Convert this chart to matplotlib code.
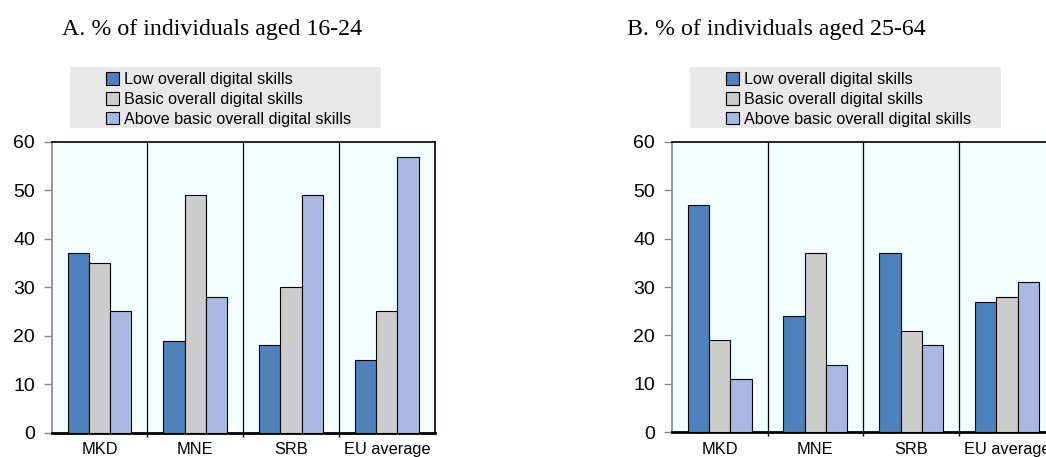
import numpy as np
import matplotlib
matplotlib.use("Agg")
import matplotlib.pyplot as plt
from matplotlib.patches import Rectangle, Patch

# data
countries = ["MKD", "MNE", "SRB", "EU average"]
series = ["Low overall digital skills", "Basic overall digital skills",
          "Above basic overall digital skills"]
young_low = [37, 19, 18, 15]
young_basic = [35, 49, 30, 25]
young_above = [25, 28, 49, 57]
adult_low = [47, 24, 37, 27]
adult_basic = [19, 37, 21, 28]
adult_above = [11, 14, 18, 31]
titles = ["A. % of individuals aged 16-24", "B. % of individuals aged 25-64"]

colors = ["#4F81BD", "#CCCCCC", "#A7B9E3"]
sans = ["Liberation Sans", "DejaVu Sans"]
serif = ["Liberation Serif", "DejaVu Serif"]

fig = plt.figure(figsize=(10.46, 4.57), dpi=100)

panels = [
    ([young_low, young_basic, young_above], 0.0494, 0.0536),
    ([adult_low, adult_basic, adult_above], 0.6422, 0.0540),
]
title_x = [61.7 / 1046, 626.7 / 1046]
legend_x = [70 / 1046, 690 / 1046]

for k, (vals, left, bottom) in enumerate(panels):
    ax = fig.add_axes([left, bottom, 0.3662, 0.6357])
    ax.set_facecolor("#F2FDFF")
    x = np.arange(len(countries))
    w = 0.222
    for i, v in enumerate(vals):
        ax.bar(x + (i - 1) * w, v, w, color=colors[i], edgecolor="black",
               linewidth=0.8, zorder=3)
    for b in x[:-1] + 0.5:
        ax.axvline(b, color="black", lw=0.9, zorder=2)
    ax.set_xlim(-0.5, len(countries) - 0.5)
    ax.set_ylim(0, 60)
    ax.set_yticks(range(0, 61, 10))
    ax.set_xticks(x)
    ax.set_xticks(x[:-1] + 0.5, minor=True)
    ax.set_xticklabels(countries, fontfamily=sans, fontsize=11.8)
    for t in ax.get_yticklabels():
        t.set_fontfamily(sans)
        t.set_fontsize(14)
    ax.tick_params(axis="x", which="major", length=0, pad=7)
    ax.tick_params(axis="x", which="minor", length=3, width=1, color="black")
    ax.tick_params(axis="y", length=6, color="#888888", width=1, pad=6)
    ax.spines["left"].set_color("#888888")
    ax.spines["left"].set_linewidth(1.2)
    ax.spines["bottom"].set_linewidth(2)
    ax.spines["top"].set_linewidth(1.2)
    ax.spines["right"].set_linewidth(1.2)

    fig.text(title_x[k], 1 - 35 / 457, titles[k], fontfamily=serif,
             fontsize=17.2, va="baseline", ha="left")

    # grey legend box
    lx = legend_x[k]
    fig.patches.append(Rectangle((lx, 1 - 128 / 457), 311 / 1046, 61 / 457,
                                 transform=fig.transFigure,
                                 facecolor="#E8E8E8", edgecolor="none"))
    handles = [Patch(facecolor=c, edgecolor="black", linewidth=0.8)
               for c in colors]
    fig.legend(handles, series, loc="center left",
               bbox_to_anchor=(lx + 36 / 1046, 1 - 99.5 / 457),
               frameon=False, prop={"family": sans, "size": 11.6},
               handlelength=0.8, handleheight=0.8, handletextpad=0.3,
               labelspacing=0.3, borderpad=0, borderaxespad=0)

fig.savefig("out.png", dpi=100)
